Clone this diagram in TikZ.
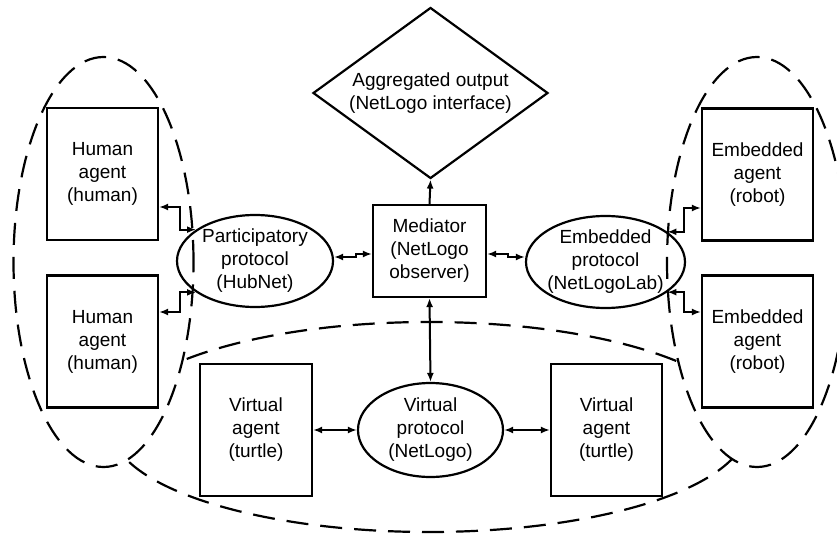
\documentclass[tikz,border=0pt]{standalone}
\usepackage{fontspec}
\setmainfont{Liberation Sans}
\usetikzlibrary{shapes.geometric,arrows.meta}

\begin{document}
\begin{tikzpicture}[x=1pt, y=-1pt,
    every node/.style={font=\fontsize{19}{23}\selectfont, align=center},
    agent/.style={draw, line width=2.2pt, inner sep=0pt,
        minimum width=111pt, minimum height=132pt},
    protocol/.style={draw, ellipse, line width=2.2pt,
        inner xsep=-8pt, inner ysep=0pt,
        minimum width=157pt, minimum height=92pt},
    group/.style={line width=2.2pt, dash pattern=on 22pt off 12pt},
    link/.style={{Latex[length=9pt,width=7pt]}-{Latex[length=9pt,width=7pt]},
        line width=2pt},
    oneway/.style={-{Latex[length=9pt,width=7pt]}, line width=2pt}
]
    \useasboundingbox (0,0) rectangle (837,540);

    \draw[group] (103.5,262) ellipse (90pt and 205pt);
    \draw[group] (757,262) ellipse (90pt and 205pt);
    \begin{scope}[even odd rule]
        \clip (-20,-20) rectangle (860,560)
            (103.5,262) ellipse (90pt and 205pt)
            (757,262) ellipse (90pt and 205pt);
        \draw[group] (429,427) ellipse (318pt and 105pt);
    \end{scope}

    \node[draw, diamond, line width=2.2pt, inner sep=0pt, aspect=1.374,
        minimum width=235pt, minimum height=171pt] (output) at (430.5,93)
        {Aggregated output\\(NetLogo interface)};
    \node[draw, line width=2.2pt, minimum width=113pt, minimum height=92pt,
        inner sep=0pt] (mediator) at (429.5,251) {Mediator\\(NetLogo\\observer)};

    \node[agent] (human1) at (102.5,174) {Human\\agent\\(human)};
    \node[agent] (human2) at (102.5,341.5) {Human\\agent\\(human)};
    \node[agent] (robot1) at (757.5,174.5) {Embedded\\agent\\(robot)};
    \node[agent] (robot2) at (757.5,341.5) {Embedded\\agent\\(robot)};
    \node[agent, minimum width=112pt] (turtle1) at (256,430) {Virtual\\agent\\(turtle)};
    \node[agent] (turtle2) at (606.5,430) {Virtual\\agent\\(turtle)};

    \node[protocol, minimum width=156pt] (hubnet) at (255,261)
        {Participatory\\protocol\\(HubNet)};
    \node[protocol, minimum width=159pt] (lab) at (605.5,262)
        {Embedded\\protocol\\(NetLogoLab)};
    \node[protocol, minimum width=145pt, minimum height=94pt] (virtual) at (430.5,430)
        {Virtual\\protocol\\(NetLogo)};

    \draw[oneway] (mediator.north) -- (output.south);

    \draw[link] ([yshift=-33pt]human1.east) -- ++(21,0) |- (hubnet.152);
    \draw[link] ([yshift=29.5pt]human2.east) -- ++(21,0) |- (hubnet.208);
    \draw[link] ([yshift=4pt]hubnet.east) -- ++(22,0) |- ([yshift=-3pt]mediator.west);
    \draw[link] ([yshift=-3pt]mediator.east) -- ++(21,0) |- ([yshift=5pt]lab.west);
    \draw[link] (lab.26) -- ++(17,0) |- ([yshift=-33.5pt]robot1.west);
    \draw[link] (lab.-26) -- ++(17,0) |- ([yshift=29.5pt]robot2.west);

    \draw[link] (mediator.south) -- (virtual.north);
    \draw[link] (turtle1.east) -- (virtual.west);
    \draw[link] (virtual.east) -- (turtle2.west);
\end{tikzpicture}
\end{document}
